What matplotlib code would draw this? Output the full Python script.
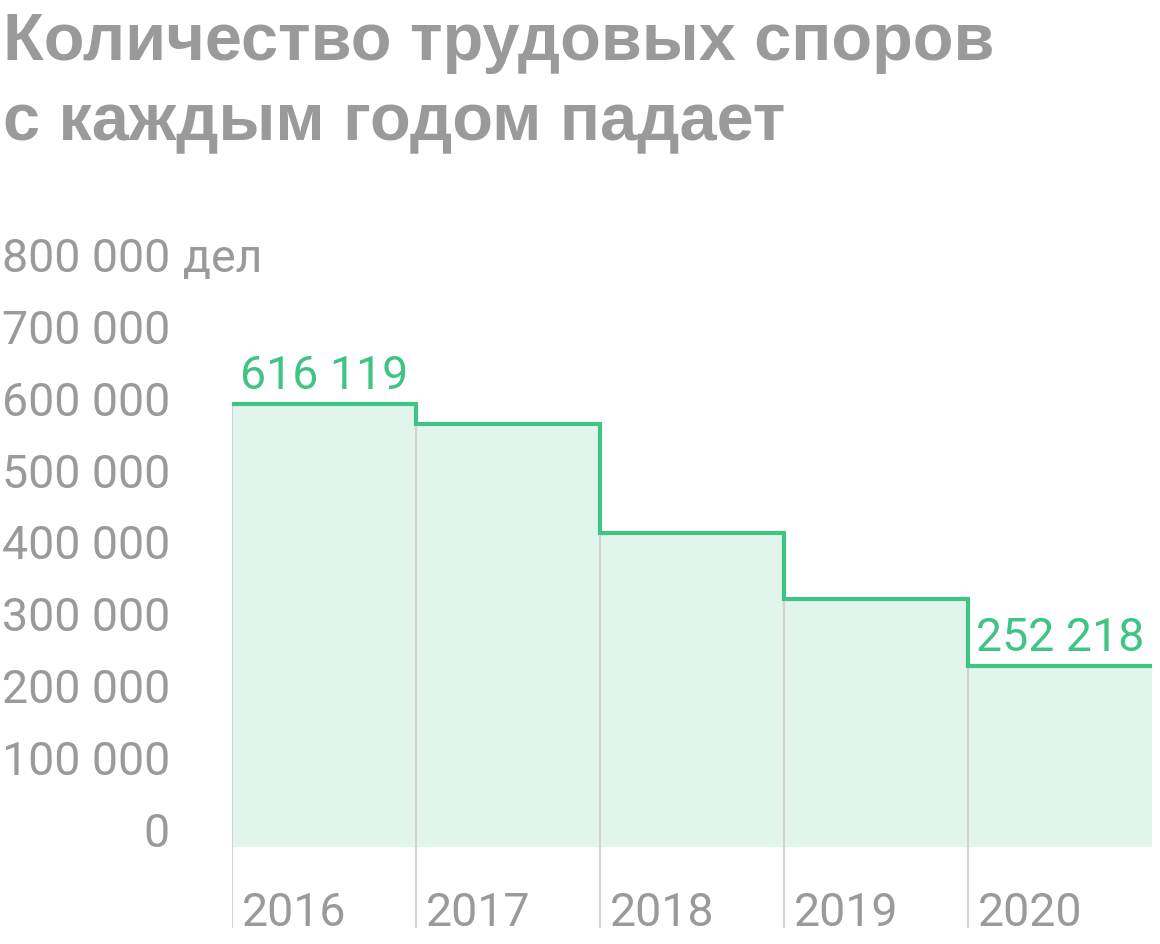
import numpy as np
import matplotlib
matplotlib.use("Agg")
import matplotlib.pyplot as plt
import matplotlib.transforms as mtransforms

# data
years = [2016, 2017, 2018, 2019, 2020]
disputes = [616119, 588000, 437000, 345000, 252218]
tick_values = [0, 100000, 200000, 300000, 400000, 500000, 600000, 700000, 800000]
tick_labels = ["0", "100 000", "200 000", "300 000", "400 000",
               "500 000", "600 000", "700 000", "800 000"]
title_lines = ["Количество трудовых споров", "с каждым годом падает"]
unit = "дел"

GREEN = "#3fc486"
FILL = "#e1f5ec"
GRAY = "#9a9a9a"
VLINE = "#d3d3d3"

W, H = 1160, 944
fig = plt.figure(figsize=(W / 100, H / 100), dpi=100)

# axes placed in pixels: x 232..1152, y 240..928 (from top)
left, right, top, bottom = 232, 1152, 240, 928
ax = fig.add_axes([left / W, 1 - bottom / H, (right - left) / W, (bottom - top) / H])

px_per_unit = 71.9 / 100000
zero_px = 847
ax.set_ylim(-(bottom - zero_px) / px_per_unit, (zero_px - top) / px_per_unit)
ax.set_xlim(years[0], years[-1] + 1)

xs = years + [years[-1] + 1]
ys = disputes + [disputes[-1]]
ax.fill_between(xs, 0, ys, step="post", color=FILL, lw=0, zorder=1)
ax.vlines(years, ax.get_ylim()[0], disputes, color=VLINE, lw=1.6, zorder=2)
ax.step(xs, ys, where="post", color=GREEN, lw=3, zorder=3, solid_joinstyle="miter")

for s in ax.spines.values():
    s.set_visible(False)
ax.set_xticks([])
ax.set_yticks([])

FS = 33.5
num_font = dict(family="Roboto", fontsize=FS, color=GRAY)

# y tick labels, baseline on the value
trans = mtransforms.blended_transform_factory(ax.transAxes, ax.transData)
lab_x = (170 - left) / (right - left)
for v, t in zip(tick_values, tick_labels):
    ax.text(lab_x, v, t, transform=trans, ha="right", va="baseline",
            clip_on=False, **num_font)
ax.text(lab_x + 13 / (right - left), tick_values[-1], unit, transform=trans,
        ha="left", va="baseline", clip_on=False, **num_font)

# year labels, cut by the axes bottom
for y in years:
    ax.text(y, ax.get_ylim()[0], str(y), ha="left", va="baseline",
            transform=ax.transData + mtransforms.ScaledTranslation(10 / 100, 2 / 100, fig.dpi_scale_trans),
            clip_on=True, **num_font)

# value labels on first and last step
for i in (0, len(years) - 1):
    ax.annotate(f"{disputes[i]:,}".replace(",", " "), (years[i], disputes[i]),
                xytext=(8, 15), textcoords="offset pixels", ha="left", va="baseline",
                family="Roboto", fontsize=FS, color=GREEN)

# title
for i, line in enumerate(title_lines):
    fig.text(3 / W, 1 - (60 + 80 * i) / H, line, ha="left", va="baseline",
             family="Liberation Sans", fontweight="bold", fontsize=48, color=GRAY)

fig.savefig("out.png", dpi=100)
